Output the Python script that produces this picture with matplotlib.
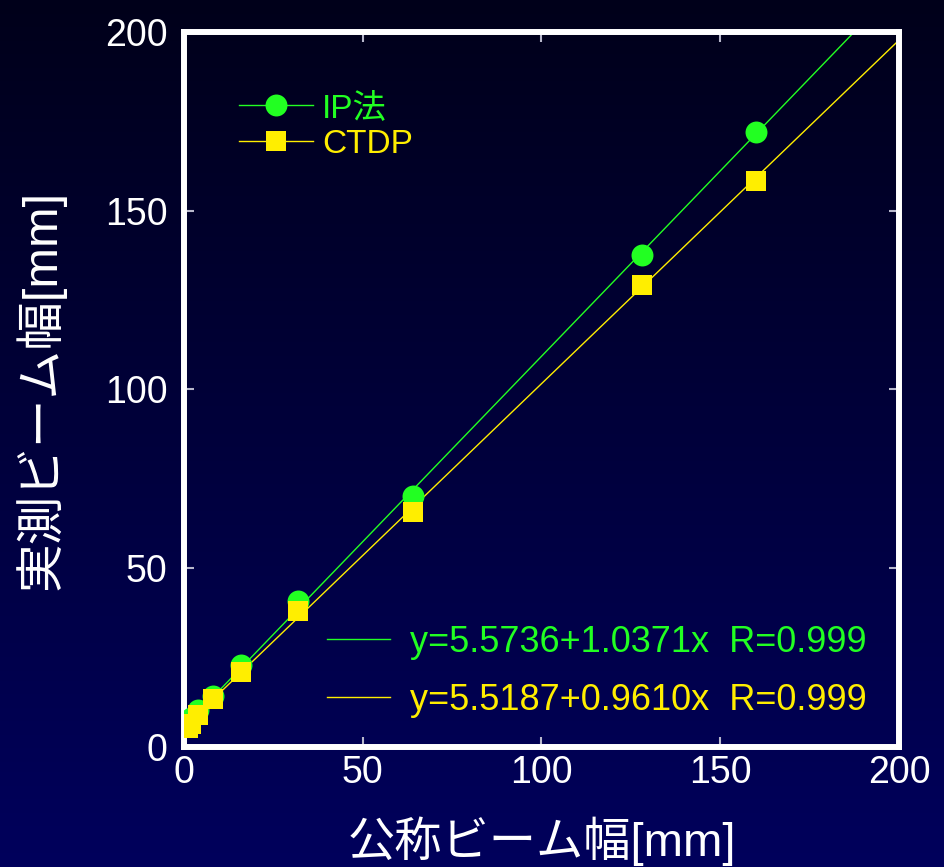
import matplotlib
matplotlib.use("Agg")
import matplotlib.pyplot as plt
from matplotlib import font_manager
from matplotlib.lines import Line2D
from matplotlib.colors import LinearSegmentedColormap
import numpy as np

# nominal vs. measured beam width
nominal = [1, 2, 4, 8, 16, 32, 64, 128, 160]
ip_width = [6.3, 8.0, 10.3, 14.3, 22.9, 40.8, 70.2, 137.5, 172.1]
ctdp_width = [5.4, 6.4, 9.0, 13.3, 21.1, 38.1, 65.7, 129.2, 158.4]

ip_fit = (5.5736, 1.0371)
ctdp_fit = (5.5187, 0.9610)
ip_eq = "y=5.5736+1.0371x  R=0.999"
ctdp_eq = "y=5.5187+0.9610x  R=0.999"

ticks = [0, 50, 100, 150, 200]

green = "#22ff22"
yellow = "#ffee00"

# narrow latin font if present, else scale down
names = {f.name for f in font_manager.fontManager.ttflist}
if "Liberation Sans Narrow" in names:
    latin, k = "Liberation Sans Narrow", 1.2
else:
    latin, k = "Liberation Sans", 1.0
plt.rcParams["font.family"] = [latin, "Noto Sans CJK JP", "DejaVu Sans"]

fig = plt.figure(figsize=(9.44, 8.67), dpi=100)

# gradient background
bg = fig.add_axes([0, 0, 1, 1], zorder=-1)
grad = np.linspace(0, 1, 256).reshape(-1, 1)
cmap = LinearSegmentedColormap.from_list("bg", ["#00005c", "#00001a"])
bg.imshow(grad, aspect="auto", extent=[0, 1, 0, 1], origin="lower", cmap=cmap)
bg.axis("off")

ax = fig.add_axes([0.1949, 0.1384, 0.7574, 0.8247])
ax.set_facecolor("none")
ax.set_xlim(0, 200)
ax.set_ylim(0, 200)

xs = np.array(ax.get_xlim())
l1, = ax.plot(xs, ip_fit[0] + ip_fit[1] * xs, color=green, lw=1, zorder=2)
l2, = ax.plot(xs, ctdp_fit[0] + ctdp_fit[1] * xs, color=yellow, lw=1, zorder=2)
ax.plot(nominal, ip_width, "o", color=green, ms=15.8, mew=0, zorder=3)
ax.plot(nominal, ctdp_width, "s", color=yellow, ms=13.7, mew=0, zorder=4)

ax.set_xticks(ticks)
ax.set_yticks(ticks)
ax.tick_params(direction="in", length=7, width=1.5, color="#b8b8cc",
               top=True, right=True, labelcolor="white", labelsize=27 * k)
ax.tick_params(axis="y", pad=12)
ax.tick_params(axis="x", pad=6)
for s in ax.spines.values():
    s.set_color("white")
    s.set_linewidth(4.3)

ax.set_xlabel("公称ビーム幅[mm]", color="white", fontsize=34, labelpad=18)
ax.set_ylabel("実測ビーム幅[mm]", color="white", fontsize=35, labelpad=28)

h1 = Line2D([], [], color=green, lw=1, marker="o", ms=15.8, mew=0)
h2 = Line2D([], [], color=yellow, lw=1, marker="s", ms=13.7, mew=0)
leg1 = ax.legend([h1, h2], ["IP法", "CTDP"], loc="center left",
                 bbox_to_anchor=(0.077, 0.868), frameon=False, fontsize=24 * k,
                 handlelength=2.22, handletextpad=0.27, labelspacing=0.14,
                 borderpad=0, borderaxespad=0)
for t, c in zip(leg1.get_texts(), [green, yellow]):
    t.set_color(c)
ax.add_artist(leg1)

leg2 = ax.legend([l1, l2], [ip_eq, ctdp_eq], loc="center left",
                 bbox_to_anchor=(0.2, 0.106), frameon=False, fontsize=26 * k,
                 handlelength=1.75, handletextpad=0.55, labelspacing=0.64,
                 borderpad=0, borderaxespad=0)
for t, c in zip(leg2.get_texts(), [green, yellow]):
    t.set_color(c)

fig.savefig("out.png", dpi=100)
